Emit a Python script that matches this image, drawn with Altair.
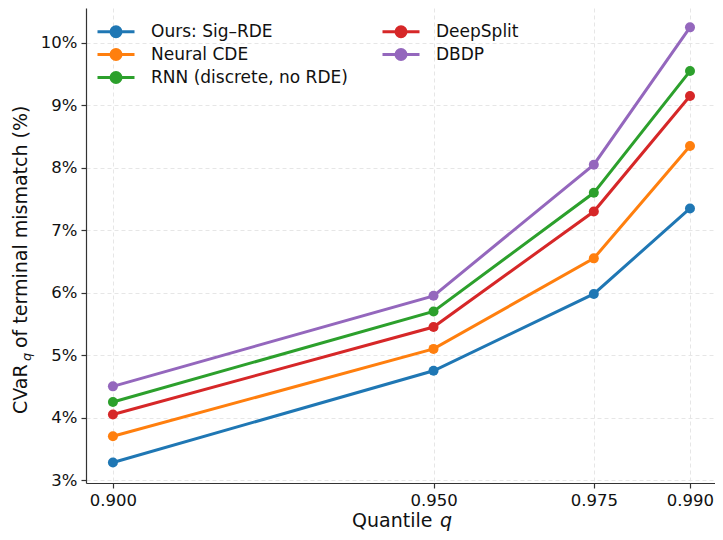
import altair as alt
import pandas as pd

quantiles = [0.900, 0.950, 0.975, 0.990]
methods = ["Ours: Sig–RDE", "Neural CDE", "RNN (discrete, no RDE)", "DeepSplit", "DBDP"]
colors = ["#1f77b4", "#ff7f0e", "#2ca02c", "#d62728", "#9467bd"]
ours = [3.28, 4.75, 5.98, 7.35]
neural_cde = [3.70, 5.10, 6.55, 8.35]
rnn = [4.25, 5.70, 7.60, 9.55]
deepsplit = [4.05, 5.45, 7.30, 9.15]
dbdp = [4.50, 5.95, 8.05, 10.25]
series = [ours, neural_cde, rnn, deepsplit, dbdp]
x_ticks = [0.900, 0.950, 0.975, 0.990]
y_ticks = [3, 4, 5, 6, 7, 8, 9, 10]

rows = []
for m, vals in zip(methods, series):
    for q, v in zip(quantiles, vals):
        rows.append({"q": q, "cvar": v, "method": m})
df = pd.DataFrame(rows)

FONT = "DejaVu Sans"
AX = "#333333"

# legend glyph: line with a dot (unit = 5px with symbolSize 100)
sym = "M-1,0L6.4,0M1.7,0A1,1,0,1,0,3.7,0A1,1,0,1,0,1.7,0Z"

x = alt.X("q:Q", scale=alt.Scale(domain=[0.8958, 0.9939], nice=False, zero=False),
          axis=alt.Axis(values=x_ticks, format=".3f", title=None, grid=True,
                        gridDash=[4, 3], gridColor="#e6e6e6", domainColor=AX, tickColor=AX,
                        tickSize=5, labelFontSize=16.5, labelColor="#111", labelPadding=4,
                        labelFont=FONT))
y = alt.Y("cvar:Q", scale=alt.Scale(domain=[2.952, 10.56], nice=False, zero=False),
          axis=alt.Axis(values=y_ticks, labelExpr="datum.value + '%'", title=None, grid=True,
                        gridDash=[4, 3], gridColor="#e6e6e6", domainColor=AX, tickColor=AX,
                        tickSize=5, labelFontSize=16.5, labelColor="#111", labelPadding=4,
                        labelFont=FONT))
color = alt.Color("method:N", sort=methods,
                  scale=alt.Scale(domain=methods, range=colors),
                  legend=alt.Legend(title=None, orient="none", legendX=8, legendY=15,
                                    columns=2, columnPadding=28, rowPadding=0,
                                    symbolType=sym, symbolSize=100, symbolStrokeWidth=3,
                                    labelFontSize=17, labelFont=FONT, labelColor="#111",
                                    labelOffset=40, labelLimit=400))

lines = alt.Chart(df).mark_line(strokeWidth=3, point=alt.OverlayMarkDef(filled=True, size=100, opacity=1)).encode(
    x=x, y=y, color=color, order="q:Q")

def txt(t, xv, yv, size=19, style="normal", angle=0, align="left", baseline="alphabetic"):
    return alt.Chart(pd.DataFrame({"t": [t]})).mark_text(
        text=t, font=FONT, fontSize=size, fontStyle=style, angle=angle, align=align,
        baseline=baseline, color="#111").encode(x=alt.value(xv), y=alt.value(yv))

ytitle = (txt("CVaR", -59, 406, angle=270)
          + txt("q", -55, 353, size=13, style="italic", angle=270)
          + txt("of terminal mismatch (%)", -59, 340, angle=270))
xtitle = txt("Quantile", 266, 519) + txt("q", 354, 519, style="italic")

chart = alt.layer(lines, ytitle, xtitle).properties(
    width=629, height=475,
    autosize=alt.AutoSizeParams(type="none"),
    padding={"left": 78, "top": 0, "right": 0, "bottom": 49},
).configure_view(stroke=None).configure_axis(domainWidth=1.2, tickWidth=1.2)

chart.save("out.html", embed_options={"renderer": "svg", "actions": False})
